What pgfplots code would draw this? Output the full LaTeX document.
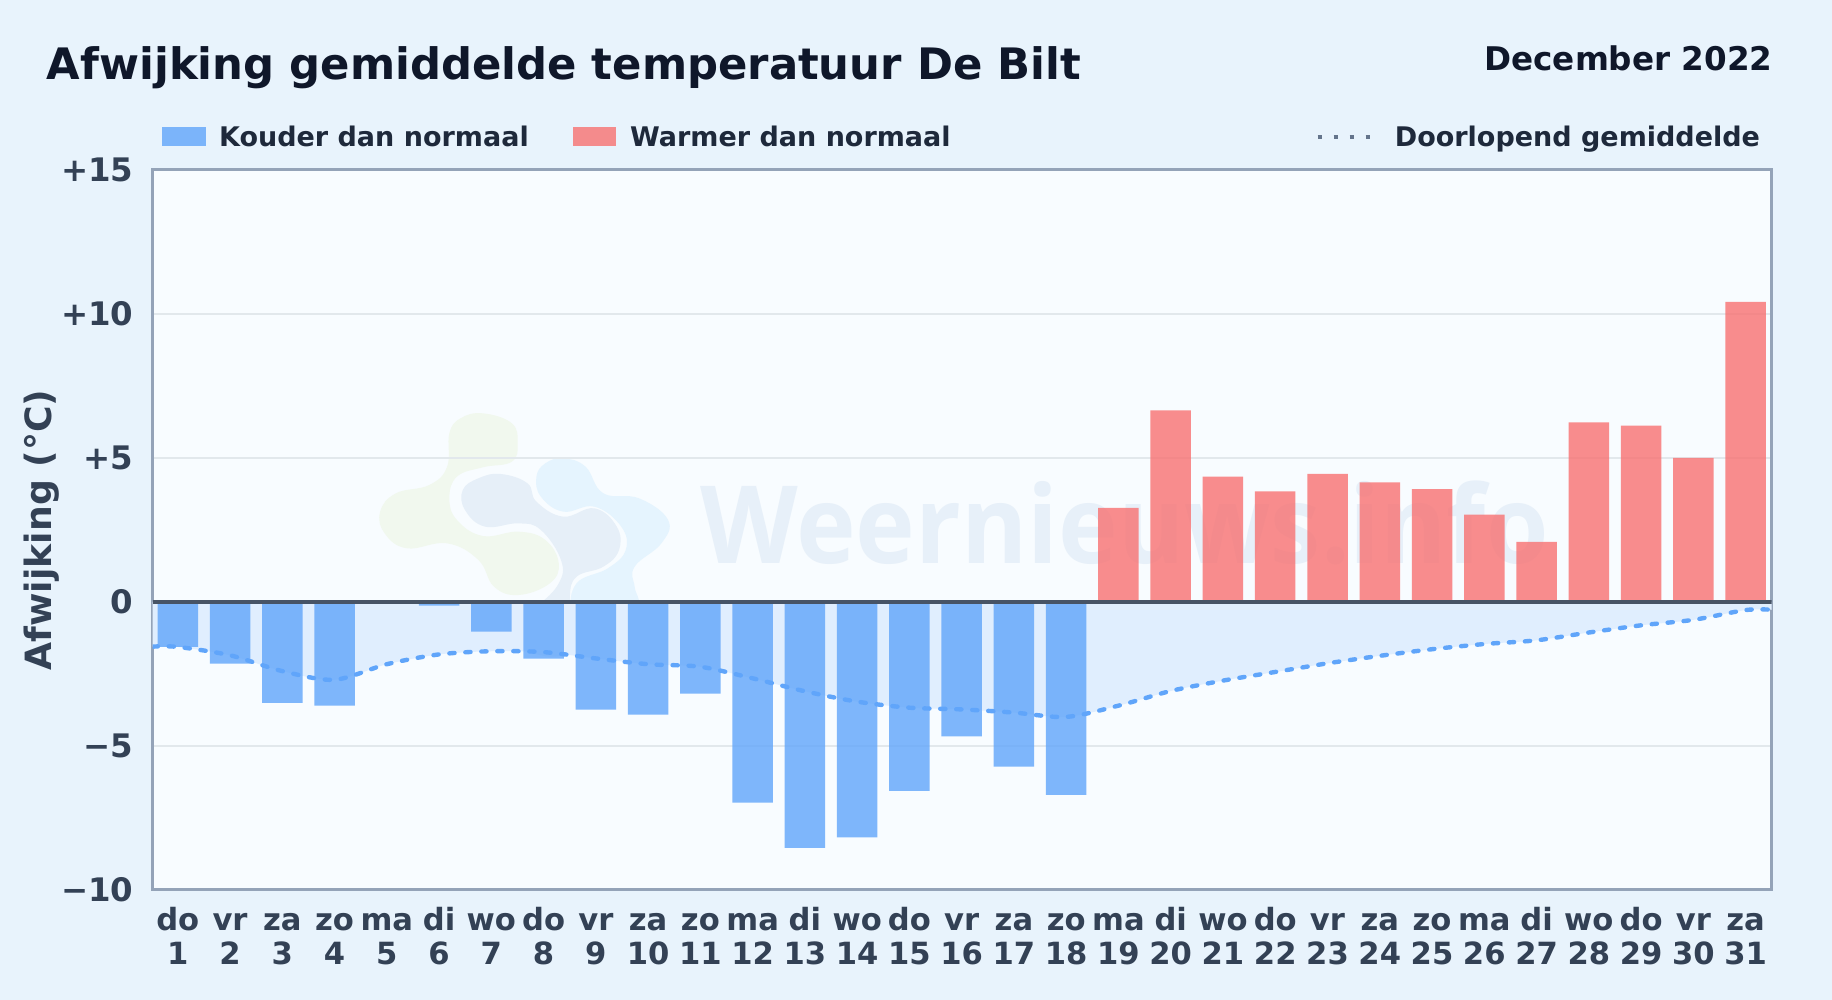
\documentclass[border=0pt]{standalone}
\usepackage{fontspec}
\setmainfont{DejaVu Sans}
\newfontfamily\wmfont[FakeStretch=0.935]{Open Sans}
\usepackage{pgfplots}
\usepackage{pgfplotstable}
\pgfplotsset{compat=1.18}

\definecolor{pagebg}{HTML}{E8F3FC}
\definecolor{plotbg}{HTML}{F8FCFF}
\definecolor{frame}{HTML}{94A3B8}
\definecolor{titlecol}{HTML}{0F172A}
\definecolor{legendcol}{HTML}{1E293B}
\definecolor{tickcol}{HTML}{334155}
\definecolor{gridcol}{HTML}{E2E8EC}
\definecolor{coldbar}{HTML}{60A5FA}
\definecolor{warmbar}{HTML}{F87171}
\definecolor{meanfill}{HTML}{E0EEFE}
\definecolor{dotcol}{HTML}{64748B}
\definecolor{wmcol}{HTML}{E7F0F9}

\pgfplotstableread{
day dev
1 -1.56
2 -2.14
3 -3.50
4 -3.60
6 -0.13
7 -1.03
8 -1.97
9 -3.74
10 -3.91
11 -3.18
12 -6.97
13 -8.54
14 -8.17
15 -6.56
16 -4.67
17 -5.72
18 -6.70
}\colddays

\pgfplotstableread{
day dev
19 3.27
20 6.65
21 4.35
22 3.84
23 4.45
24 4.15
25 3.92
26 3.03
27 2.09
28 6.24
29 6.12
30 5.00
31 10.42
}\warmdays

\pgfplotstableread{
day mean
0.52 -1.55
1 -1.56
2 -1.85
3 -2.40
4 -2.70
5 -2.16
6 -1.82
7 -1.71
8 -1.74
9 -1.96
10 -2.16
11 -2.25
12 -2.65
13 -3.10
14 -3.46
15 -3.67
16 -3.73
17 -3.84
18 -3.99
19 -3.60
20 -3.09
21 -2.73
22 -2.43
23 -2.13
24 -1.87
25 -1.64
26 -1.46
27 -1.33
28 -1.06
29 -0.81
30 -0.62
31 -0.28
31.5 -0.27
}\running

\begin{document}
\begin{tikzpicture}
	% page and plot area, in reference pixels
	\begin{scope}[x=0.5pt,y=-0.5pt,shift={(-76.35pt,445pt)}]
		\fill[pagebg] (0,0) rectangle (1832,1000);
		\fill[plotbg] (152.7,170) rectangle (1771.7,890);
	\end{scope}

	% watermark logo
	\begin{scope}[x=0.2232pt,y=-0.16667pt,shift={(93.65pt,255pt)}]
		\fill[color={rgb,255:red,241;green,248;blue,238}] plot[smooth cycle,tension=0.7] coordinates {
			(320,100) (385,130) (398,190) (385,245) (320,262) (262,290) (245,355) (262,420)
			(320,468) (400,455) (460,480) (490,550) (470,610) (400,645) (345,620) (310,540)
			(240,490) (150,505) (100,460) (90,395) (125,340) (200,315) (240,260) (245,160) (270,115)};
		\fill[color={rgb,255:red,230;green,239;blue,248}] plot[smooth cycle,tension=0.7] coordinates {
			(360,282) (420,310) (440,365) (500,410) (570,385) (620,440) (625,510) (590,560)
			(530,590) (515,650) (525,720) (525,790) (480,830) (400,800) (375,740) (440,680)
			(490,610) (495,540) (450,450) (400,430) (325,440) (280,390) (275,330) (310,295)};
		\fill[color={rgb,255:red,229;green,244;blue,254}] plot[smooth cycle,tension=0.7] coordinates {
			(500,235) (550,260) (590,340) (670,355) (735,420) (720,490) (660,560) (660,620)
			(670,680) (640,740) (560,760) (520,700) (530,610) (600,565) (640,510) (630,440)
			(570,380) (500,395) (450,350) (440,290) (460,250)};
	\end{scope}
	\begin{scope}[x=0.5pt,y=-0.5pt,shift={(-76.35pt,445pt)}]
		\node[anchor=base west,inner sep=0pt,text=wmcol] at (700,564)
			{\wmfont\bfseries\fontsize{54}{60}\selectfont Weernieuws.info};
	\end{scope}

	\begin{axis}[
		scale only axis,
		width=809.5pt,
		height=360pt,
		xmin=0.52, xmax=31.5,
		ymin=-10, ymax=15,
		axis line style={frame,line width=1.5pt},
		major tick length=0pt,
		ymajorgrids,
		grid style={gridcol,line width=0.8pt},
		ytick={-10,-5,0,5,10,15},
		yticklabels={−10,−5,0,+5,+10,+15},
		yticklabel style={font=\bfseries\fontsize{16.2}{20}\selectfont,text=tickcol,anchor=east,inner sep=0pt,xshift=-9.5pt},
		xtick={1,...,31},
		xticklabels={
			{\strut do\\\strut 1},{\strut vr\\\strut 2},{\strut za\\\strut 3},{\strut zo\\\strut 4},
			{\strut ma\\\strut 5},{\strut di\\\strut 6},{\strut wo\\\strut 7},{\strut do\\\strut 8},
			{\strut vr\\\strut 9},{\strut za\\\strut 10},{\strut zo\\\strut 11},{\strut ma\\\strut 12},
			{\strut di\\\strut 13},{\strut wo\\\strut 14},{\strut do\\\strut 15},{\strut vr\\\strut 16},
			{\strut za\\\strut 17},{\strut zo\\\strut 18},{\strut ma\\\strut 19},{\strut di\\\strut 20},
			{\strut wo\\\strut 21},{\strut do\\\strut 22},{\strut vr\\\strut 23},{\strut za\\\strut 24},
			{\strut zo\\\strut 25},{\strut ma\\\strut 26},{\strut di\\\strut 27},{\strut wo\\\strut 28},
			{\strut do\\\strut 29},{\strut vr\\\strut 30},{\strut za\\\strut 31}},
		xticklabel style={font=\bfseries\fontsize{15.3}{17.2}\selectfont,text=tickcol,align=center,anchor=north,inner sep=0pt,yshift=-8pt},
		ylabel={Afwijking (°C)},
		every axis y label/.style={at={(axis description cs:-0.0628,0.5)},rotate=90,anchor=base,font=\bfseries\fontsize{18.1}{21}\selectfont,text=tickcol,inner sep=0pt},
	]

	% area between the running mean and zero
	\addplot[draw=none,fill=meanfill,smooth,tension=0.5] table[x=day,y=mean] {\running} \closedcycle;

	\addplot[ybar,bar width=0.775,bar shift=0pt,draw=none,fill=coldbar,fill opacity=0.8] table[x=day,y=dev] {\colddays};
	\addplot[ybar,bar width=0.775,bar shift=0pt,draw=none,fill=warmbar,fill opacity=0.8] table[x=day,y=dev] {\warmdays};

	\addplot[coldbar,line width=2.2pt,smooth,tension=0.5,line cap=round,dash pattern=on 2.6pt off 5.4pt] table[x=day,y=mean] {\running};

	\addplot[tickcol!90!white,line width=2.2pt] coordinates {(0.52,0) (31.5,0)};
	\end{axis}

	% title and legend, in reference pixels
	\begin{scope}[x=0.5pt,y=-0.5pt,shift={(-76.35pt,445pt)}]
		\node[anchor=base west,inner sep=0pt,text=titlecol] at (46.5,80)
			{\bfseries\fontsize{21.67}{26}\selectfont Afwijking gemiddelde temperatuur De Bilt};
		\node[anchor=base east,inner sep=0pt,text=titlecol] at (1773,71)
			{\bfseries\fontsize{16.3}{19}\selectfont December 2022};

		\fill[coldbar,opacity=0.8] (162,126.7) rectangle (205.8,146);
		\node[anchor=base west,inner sep=0pt,text=legendcol] at (218.7,146.5)
			{\bfseries\fontsize{13.5}{16}\selectfont Kouder dan normaal};
		\fill[warmbar,opacity=0.8] (573,126.7) rectangle (616,146);
		\node[anchor=base west,inner sep=0pt,text=legendcol] at (629.7,146.5)
			{\bfseries\fontsize{13.5}{16}\selectfont Warmer dan normaal};
		\draw[dotcol,line width=2pt,dash pattern=on 2pt off 6pt] (1317.7,136.7) -- (1373,136.7);
		\node[anchor=base west,inner sep=0pt,text=legendcol] at (1394.5,146.5)
			{\bfseries\fontsize{13.5}{16}\selectfont Doorlopend gemiddelde};
	\end{scope}

	\pgfresetboundingbox
	\path[use as bounding box] (-76.35pt,445pt) rectangle (839.65pt,-55pt);
\end{tikzpicture}
\end{document}
